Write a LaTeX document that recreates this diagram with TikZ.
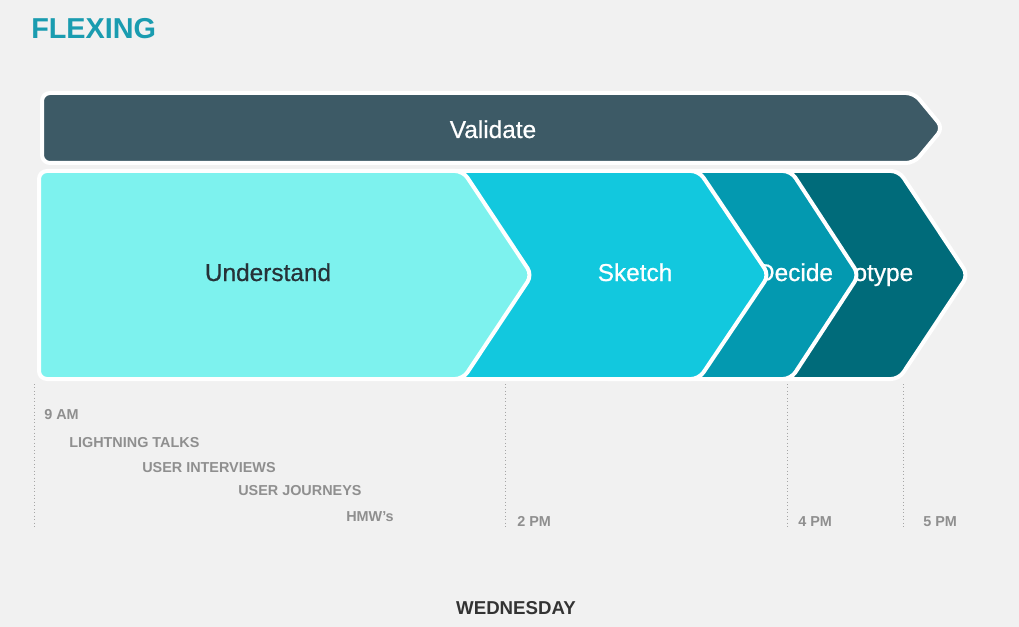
\documentclass[tikz,border=0pt]{standalone}
\usepackage{fontspec}
\setmainfont{Liberation Sans}
\newfontfamily\medfont[FakeBold=0.6]{Liberation Sans}
\definecolor{bgcol}{HTML}{F1F1F1}
\definecolor{valcol}{HTML}{3D5A66}
\definecolor{undcol}{HTML}{7DF2EE}
\definecolor{skecol}{HTML}{12C8DE}
\definecolor{deccol}{HTML}{0399B0}
\definecolor{procol}{HTML}{006B7A}
\definecolor{flexcol}{HTML}{1A9CB0}
\definecolor{graytxt}{HTML}{8F8F8F}
\definecolor{darktxt}{HTML}{333333}
\definecolor{undtxt}{HTML}{263238}
\begin{document}
\begin{tikzpicture}[x=0.75pt,y=-0.75pt,
  chev/.style={draw=white, line width=3pt, rounded corners=6pt, line join=round},
  phase/.style={font=\medfont\fontsize{18.3}{20}\selectfont, text=white, inner sep=0pt, anchor=base},
  timelbl/.style={font=\bfseries\fontsize{10.8}{12}\selectfont, text=graytxt, anchor=base west, inner sep=0pt},
  guide/.style={draw=gray!70, line width=0.6pt, dotted}]
\fill[bgcol] (0,0) rectangle (1019,627);
\useasboundingbox (0,0) rectangle (1019,627);

% title
\node[font=\bfseries\fontsize{21.6}{24}\selectfont, text=flexcol, anchor=base west, inner sep=0pt] (title) at (31,39) {FLEXING};

% validate bar
\path[chev, fill=valcol] (42,93) -- (914,93) -- (943,128) -- (914,163) -- (42,163) -- cycle;
\node[phase] (validate) at (493,138) {Validate};

% prototype
\path[chev, fill=procol] (700,171) -- (899,171) -- (968,275) -- (899,379) -- (700,379) -- cycle;
\node[phase] (prototype) at (861,281) {Prototype};
% decide
\path[chev, fill=deccol] (600,171) -- (791,171) -- (859,275) -- (791,379) -- (600,379) -- cycle;
\node[phase] (decide) at (795,281) {Decide};
% sketch
\path[chev, fill=skecol] (400,171) -- (699,171) -- (769,275) -- (699,379) -- (400,379) -- cycle;
\node[phase] (sketch) at (635,281) {Sketch};
% understand
\path[chev, fill=undcol] (39,171) -- (463,171) -- (532,275) -- (463,379) -- (39,379) -- cycle;
\node[phase, text=undtxt] (understand) at (268,281) {Understand};

% guides
\coordinate (g1t) at (34,384); \coordinate (g1b) at (34,528);
\coordinate (g2t) at (505,384); \coordinate (g2b) at (505,528);
\coordinate (g3t) at (787,384); \coordinate (g3b) at (787,528);
\coordinate (g4t) at (903,384); \coordinate (g4b) at (903,528);
\draw[guide] (g1t) -- (g1b);
\draw[guide] (g2t) -- (g2b);
\draw[guide] (g3t) -- (g3b);
\draw[guide] (g4t) -- (g4b);

% time labels
\node[timelbl] (t9) at (44,419) {9 AM};
\node[timelbl] (lt) at (69,447) {LIGHTNING TALKS};
\node[timelbl] (ui) at (142,472) {USER INTERVIEWS};
\node[timelbl] (uj) at (238,495) {USER JOURNEYS};
\node[timelbl] (hmw) at (346,521) {HMW’s};
\node[timelbl] (t2) at (517,526) {2 PM};
\node[timelbl] (t4) at (798,526) {4 PM};
\node[timelbl] (t5) at (923,526) {5 PM};

% day
\node[font=\bfseries\fontsize{14}{16}\selectfont, text=darktxt, anchor=base, inner sep=0pt] (day) at (516,614) {WEDNESDAY};
\end{tikzpicture}
\end{document}
